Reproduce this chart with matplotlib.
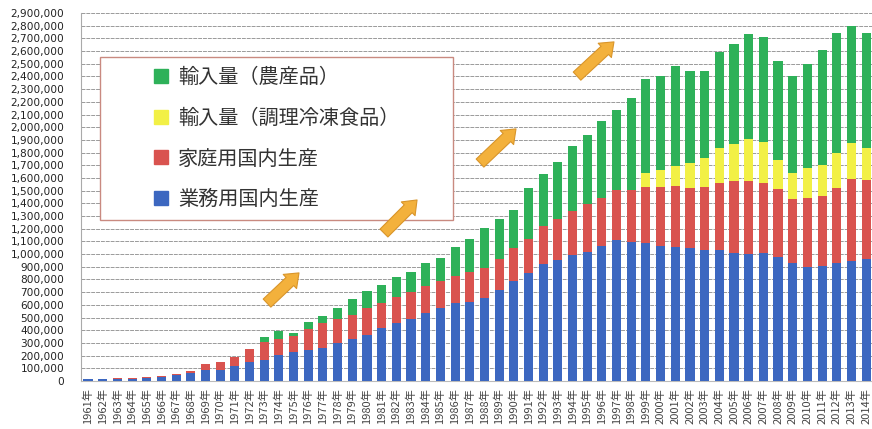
import numpy as np
import matplotlib
matplotlib.use("Agg")
import matplotlib.pyplot as plt
from matplotlib.patches import Rectangle
from matplotlib.ticker import FuncFormatter, MultipleLocator

plt.rcParams['font.family'] = ['Noto Sans CJK JP', 'DejaVu Sans']

# DATA (thousand tonnes)
years = list(range(1961, 2015))
year_labels = [f"{y}年" for y in years]

gyomu = [12, 14, 16, 18, 27, 34, 45, 62, 84, 87,
         118, 152, 166, 205, 225, 244, 258, 297, 331, 363,
         415, 460, 487, 534, 578, 617, 620, 652, 720, 787,
         853, 921, 954, 996, 1020, 1063, 1112, 1099, 1086, 1065,
         1059, 1046, 1033, 1033, 1011, 1002, 1007, 980, 928, 901,
         907, 928, 949, 960]
katei = [4, 4, 5, 6, 7, 8, 9, 18, 48, 60,
         74, 100, 144, 125, 127, 164, 197, 190, 189, 210,
         198, 205, 213, 218, 213, 213, 238, 237, 244, 259,
         265, 299, 325, 346, 373, 382, 394, 407, 446, 467,
         481, 474, 499, 525, 564, 575, 557, 534, 507, 540,
         554, 592, 642, 625]
yunyu_chori = [0] * 38 + [105, 132, 158, 197, 224, 277, 290, 329,
                          323, 229, 207, 236, 242, 276, 283, 250]
yunyu_nosan = [0] * 12 + [39, 66, 26, 55, 60, 86, 127, 137,
                          144, 158, 157, 181, 182, 229, 259, 317, 315, 305,
                          404, 413, 446, 506, 547, 607, 631, 724, 743, 741,
                          786, 722, 683, 757, 793, 828, 823, 775, 763, 823,
                          902, 950, 926, 911]

labels = ["業務用国内生産", "家庭用国内生産", "輸入量（調理冷凍食品）", "輸入量（農産品）"]
colors = ["#3c67c0", "#d9534f", "#f2f046", "#2eb159"]

series = [np.array(s) * 1000 for s in (gyomu, katei, yunyu_chori, yunyu_nosan)]

fig = plt.figure(figsize=(8.72, 4.29), dpi=100)
ax = fig.add_axes([81 / 872, 48 / 429, 791 / 872, 368 / 429])

x = np.arange(len(years))
bottom = np.zeros(len(years))
for vals, col, lab in zip(series, colors, labels):
    ax.bar(x, vals, bottom=bottom, width=0.62, color=col, label=lab, zorder=3)
    bottom += vals

ax.set_ylim(0, 2900000)
ax.set_xlim(-0.48, 53.4)
ax.yaxis.set_major_locator(MultipleLocator(100000))
ax.yaxis.set_major_formatter(FuncFormatter(lambda v, p: f"{int(v):,}"))
ax.grid(axis='y', color='#9a9a9a', linewidth=0.7, linestyle=(0, (4, 1)), zorder=0)

ax.set_xticks(x)
ax.set_xticklabels(year_labels, rotation=90, fontsize=8, color='#444')
ax.tick_params(axis='x', length=0, pad=5)
ax.tick_params(axis='y', length=0, pad=12, labelsize=7.6, labelcolor='#222')
for lab in ax.get_yticklabels():
    lab.set_family('DejaVu Sans')

for side in ('top', 'right'):
    ax.spines[side].set_visible(False)
ax.spines['left'].set_color('#aaaaaa')
ax.spines['bottom'].set_color('#bbbbbb')

# legend box
box = Rectangle((100 / 872, 1 - 220 / 429), 353 / 872, 163 / 429,
                transform=fig.transFigure, facecolor='white',
                edgecolor='#c98a80', linewidth=1.0, zorder=5, clip_on=False)
ax.add_patch(box)
handles = [plt.Line2D([], [], marker='s', linestyle='', markersize=10,
                      color=c) for c in colors[::-1]]
leg = ax.legend(handles, labels[::-1], loc='upper left',
                bbox_to_anchor=(143 / 872, 1 - 57 / 429),
                bbox_transform=fig.transFigure, frameon=False,
                fontsize=14.5, labelspacing=0.98, handlelength=0.8,
                handletextpad=0.45, borderpad=0)
for t in leg.get_texts():
    t.set_color('#333333')
leg.set_zorder(6)

# decorative arrows
arrow_spots = [((265, 305), (301, 271)), ((382, 235), (419, 198)),
               ((478, 165), (518, 127)), ((575, 78), (616, 40))]
for (x0, y0), (x1, y1) in arrow_spots:
    ax.annotate('', xy=((x1 - 81) / 791, (381 - y1) / 368),
                xytext=((x0 - 81) / 791, (381 - y0) / 368),
                xycoords='axes fraction', textcoords='axes fraction',
                arrowprops=dict(arrowstyle='simple,head_length=0.9,head_width=1.4,tail_width=0.8',
                                fc='#f3b13c', ec='#d9952a', lw=0.8),
                zorder=7, annotation_clip=False)

fig.savefig("out.png", dpi=100)
